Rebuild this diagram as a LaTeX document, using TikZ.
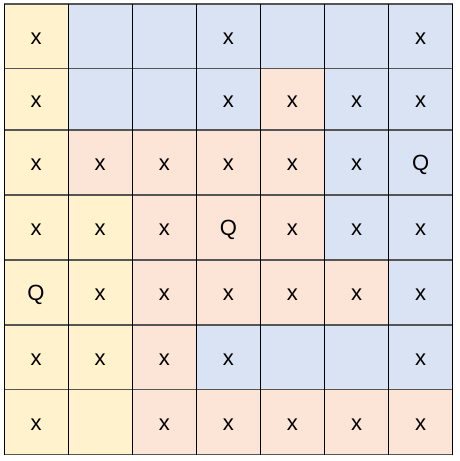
\documentclass[tikz,border=0pt]{standalone}
\usepackage{fontspec}
\setmainfont{Liberation Sans}
\definecolor{cy}{HTML}{FFF2CC}
\definecolor{cb}{HTML}{DAE3F3}
\definecolor{cp}{HTML}{FCE4D6}
\definecolor{hline}{HTML}{555555}
\tikzset{
  celltext/.style={anchor=base,inner sep=0pt,font=\fontsize{22}{26}\selectfont},
  hgrid/.style={draw=hline,line width=1.2pt},
  vgrid/.style={draw=black,line width=1pt},
}
\newcommand{\gcell}[4]{%
  \pgfmathsetmacro\xa{4+64.1*#1}%
  \pgfmathsetmacro\xb{4+64.1*(#1+1)}%
  \pgfmathsetmacro\ya{{4,68.5,130,195,260,325,389.5,454.5}[#2]}%
  \pgfmathsetmacro\yb{{4,68.5,130,195,260,325,389.5,454.5}[#2+1]}%
  \fill[#3] (\xa,\ya) rectangle (\xb,\yb);
  \node[celltext] (c#1#2) at ({(\xa+\xb)/2},{(\ya+\yb)/2+8}) {#4};
}
\begin{document}
\begin{tikzpicture}[x=1pt,y=-1pt]
\useasboundingbox (0,0) rectangle (459,461);
\fill[white] (0,0) rectangle (459,461);
% row 0
\gcell{0}{0}{cy}{x}\gcell{1}{0}{cb}{}\gcell{2}{0}{cb}{}\gcell{3}{0}{cb}{x}\gcell{4}{0}{cb}{}\gcell{5}{0}{cb}{}\gcell{6}{0}{cb}{x}
% row 1
\gcell{0}{1}{cy}{x}\gcell{1}{1}{cb}{}\gcell{2}{1}{cb}{}\gcell{3}{1}{cb}{x}\gcell{4}{1}{cp}{x}\gcell{5}{1}{cb}{x}\gcell{6}{1}{cb}{x}
% row 2
\gcell{0}{2}{cy}{x}\gcell{1}{2}{cp}{x}\gcell{2}{2}{cp}{x}\gcell{3}{2}{cp}{x}\gcell{4}{2}{cp}{x}\gcell{5}{2}{cb}{x}\gcell{6}{2}{cb}{Q}
% row 3
\gcell{0}{3}{cy}{x}\gcell{1}{3}{cy}{x}\gcell{2}{3}{cp}{x}\gcell{3}{3}{cp}{Q}\gcell{4}{3}{cp}{x}\gcell{5}{3}{cb}{x}\gcell{6}{3}{cb}{x}
% row 4
\gcell{0}{4}{cy}{Q}\gcell{1}{4}{cy}{x}\gcell{2}{4}{cp}{x}\gcell{3}{4}{cp}{x}\gcell{4}{4}{cp}{x}\gcell{5}{4}{cp}{x}\gcell{6}{4}{cb}{x}
% row 5
\gcell{0}{5}{cy}{x}\gcell{1}{5}{cy}{x}\gcell{2}{5}{cp}{x}\gcell{3}{5}{cb}{x}\gcell{4}{5}{cb}{}\gcell{5}{5}{cb}{}\gcell{6}{5}{cb}{x}
% row 6
\gcell{0}{6}{cy}{x}\gcell{1}{6}{cy}{}\gcell{2}{6}{cp}{x}\gcell{3}{6}{cp}{x}\gcell{4}{6}{cp}{x}\gcell{5}{6}{cp}{x}\gcell{6}{6}{cp}{x}
% grid lines
\foreach \y in {4,68.5,130,195,260,325,389.5,454.5}
  \draw[hgrid] (4,\y) -- (452.7,\y);
\foreach \i in {0,...,7}
  \draw[vgrid] ({4+64.1*\i},4) -- ({4+64.1*\i},454.5);
\end{tikzpicture}
\end{document}
